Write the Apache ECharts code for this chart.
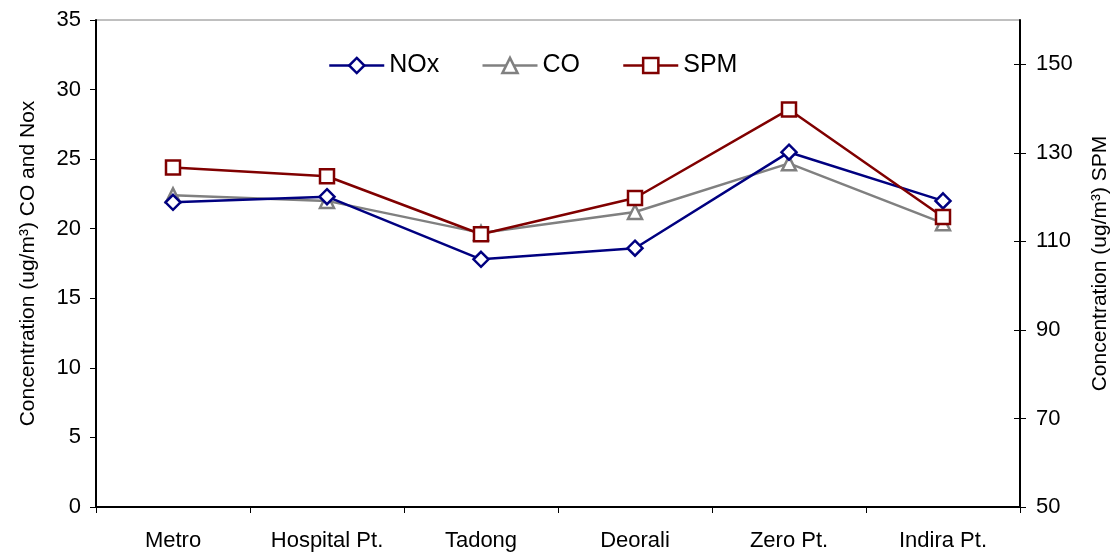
<!DOCTYPE html>
<html>
<head>
<meta charset="utf-8">
<script src="https://cdn.jsdelivr.net/npm/echarts@6/dist/echarts.min.js"></script>
<style>html,body{margin:0;padding:0;background:#fff;}#c{width:1119px;height:553px;}</style>
</head>
<body>
<div id="c"></div>
<script>
const categories = ['Metro', 'Hospital Pt.', 'Tadong', 'Deorali', 'Zero Pt.', 'Indira Pt.'];
const noxValues = [21.9, 22.3, 17.8, 18.6, 25.5, 22.0];
const coValues = [22.4, 22.0, 19.7, 21.2, 24.7, 20.4];
const spmValues = [126.7, 124.7, 111.6, 119.8, 139.8, 115.5];
const rightTickValues = [50, 70, 90, 110, 130, 150];

const FONT = '"Liberation Sans", Arial, sans-serif';
const chart = echarts.init(document.getElementById('c'), null, {renderer: 'canvas'});
chart.setOption({
  animation: false,
  backgroundColor: '#fff',
  textStyle: {fontFamily: FONT, color: '#000'},
  grid: {left: 96, right: 95, top: 20, bottom: 46, show: true, borderColor: '#808080', borderWidth: 1, backgroundColor: 'transparent'},
  legend: {
    left: 323, top: 48, itemWidth: 55, itemHeight: 19, itemGap: 42,
    lineStyle: {width: 2.5},
    itemStyle: {borderWidth: 2.5},
    textStyle: {fontSize: 25, fontFamily: FONT, color: '#000'},
    data: ['NOx', 'CO', 'SPM']
  },
  xAxis: {
    type: 'category', data: categories, boundaryGap: true,
    axisLine: {lineStyle: {color: '#000', width: 2}},
    axisTick: {show: true, length: 6, lineStyle: {color: '#000', width: 1}},
    axisLabel: {fontSize: 22, fontFamily: FONT, color: '#000', margin: 23},
    splitLine: {show: false}
  },
  yAxis: [
    {
      type: 'value', position: 'left', min: 0, max: 35, interval: 5,
      name: 'Concentration (ug/m³) CO and Nox', nameLocation: 'middle', nameGap: 57,
      nameTextStyle: {fontSize: 21, fontFamily: FONT, color: '#000'},
      axisLine: {show: true, lineStyle: {color: '#000', width: 2}},
      axisTick: {show: true, length: 6, lineStyle: {color: '#000', width: 1}},
      axisLabel: {fontSize: 22, fontFamily: FONT, color: '#000', margin: 15},
      splitLine: {show: false}
    },
    {
      type: 'value', position: 'right', min: 50, max: 160,
      name: 'Concentration (ug/m³) SPM', nameLocation: 'middle', nameGap: 70,
      nameTextStyle: {fontSize: 21, fontFamily: FONT, color: '#000'},
      axisLine: {show: true, lineStyle: {color: '#000', width: 2}},
      axisTick: {show: true, length: 6, customValues: rightTickValues, lineStyle: {color: '#000', width: 1}},
      axisLabel: {fontSize: 22, fontFamily: FONT, color: '#000', margin: 16, customValues: rightTickValues},
      splitLine: {show: false}
    },
    {
      type: 'value', position: 'right', min: 50, max: 160,
      axisLine: {show: false},
      axisTick: {show: true, inside: true, length: 6, customValues: rightTickValues, lineStyle: {color: '#000', width: 1}},
      axisLabel: {show: false},
      splitLine: {show: false}
    }
  ],
  series: [
    {
      name: 'NOx', type: 'line', yAxisIndex: 0, data: noxValues,
      symbol: 'diamond', symbolSize: 15, showAllSymbol: true,
      lineStyle: {color: '#000080', width: 2.5},
      itemStyle: {color: '#fff', borderColor: '#000080', borderWidth: 2.5},
      color: '#000080', z: 4
    },
    {
      name: 'CO', type: 'line', yAxisIndex: 0, data: coValues,
      symbol: 'triangle', symbolSize: 14,
      lineStyle: {color: '#808080', width: 2.5},
      itemStyle: {color: '#fff', borderColor: '#808080', borderWidth: 2.5},
      color: '#808080', z: 3
    },
    {
      name: 'SPM', type: 'line', yAxisIndex: 1, data: spmValues,
      symbol: 'rect', symbolSize: 14,
      lineStyle: {color: '#800000', width: 2.5},
      itemStyle: {color: '#fff', borderColor: '#800000', borderWidth: 2.5},
      color: '#800000', z: 5
    }
  ]
});
</script>
</body>
</html>
